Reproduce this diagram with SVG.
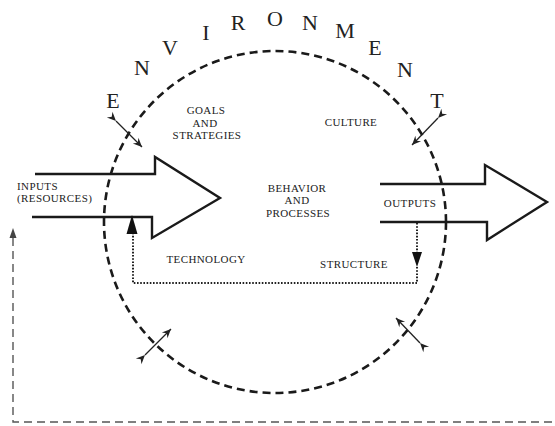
<svg xmlns="http://www.w3.org/2000/svg" width="555" height="426" viewBox="0 0 555 426">
  <style>
    .env { font-family: "Liberation Serif", "Times New Roman", serif; font-size: 22px; fill: #222; text-anchor: middle; }
    .lbl { font-family: "Liberation Serif", "Times New Roman", serif; font-size: 11px; letter-spacing: 0.4px; fill: #222; text-anchor: middle; }
    .left { text-anchor: start; }
    .big { fill: none; stroke: #1a1a1a; stroke-width: 2.4; stroke-linejoin: miter; }
    .boundary { fill: none; stroke: #1a1a1a; stroke-width: 2.6; stroke-dasharray: 8 5; }
    .dotted { fill: none; stroke: #222; stroke-width: 2; stroke-dasharray: 1.6 1.6; }
    .feedback { fill: none; stroke: #555; stroke-width: 1.4; stroke-dasharray: 8 5; }
    .cross { fill: none; stroke: #222; stroke-width: 1.3; marker-start: url(#barb); marker-end: url(#barb); }
  </style>
  <defs>
    <marker id="barb" viewBox="-10 -5 12 10" refX="0" refY="0" markerWidth="12" markerHeight="10" markerUnits="userSpaceOnUse" orient="auto">
      <path d="M0,0 L-9,-4 L-6,0 L-9,4 Z" fill="#222"/>
    </marker>
  </defs>

  <rect width="555" height="426" fill="#ffffff"/>

  <!-- system boundary -->
  <g id="boundary">
    <circle class="boundary" cx="275" cy="222" r="171"/>
  </g>

  <!-- the word ENVIRONMENT arched over the boundary -->
  <g id="environment">
    <text class="env" x="113" y="108">E</text>
    <text class="env" x="142" y="75">N</text>
    <text class="env" x="170" y="55">V</text>
    <text class="env" x="206" y="40">I</text>
    <text class="env" x="238" y="30">R</text>
    <text class="env" x="275" y="26">O</text>
    <text class="env" x="310" y="30">N</text>
    <text class="env" x="345" y="38">M</text>
    <text class="env" x="375" y="55">E</text>
    <text class="env" x="405" y="77">N</text>
    <text class="env" x="437" y="108">T</text>
  </g>

  <!-- exchange marks crossing the boundary, all pointing inward -->
  <g id="exchanges">
    <line class="cross" x1="116" y1="121" x2="142" y2="147"/>
    <line class="cross" x1="438" y1="118" x2="412" y2="145"/>
    <line class="cross" x1="145" y1="355" x2="171" y2="329"/>
    <line class="cross" x1="420" y1="343" x2="396" y2="318"/>
  </g>

  <!-- inputs arrow -->
  <g id="inputs">
    <path class="big" d="M35,174 H155 V157 L220,198 L152,238 V217 H32"/>
    <text class="lbl left" x="17" y="189.5">INPUTS</text>
    <text class="lbl left" x="17" y="202">(RESOURCES)</text>
  </g>

  <!-- outputs arrow -->
  <g id="outputs">
    <path class="big" d="M380,184 H485 V165 L547,202 L487,240 V222 H380"/>
    <text class="lbl" x="410" y="207">OUTPUTS</text>
  </g>

  <!-- internal subsystems -->
  <g id="goals">
    <text class="lbl" x="206" y="114">GOALS</text>
    <text class="lbl" x="205" y="126.5">AND</text>
    <text class="lbl" x="207" y="139">STRATEGIES</text>
  </g>
  <g id="culture">
    <text class="lbl" x="351" y="126">CULTURE</text>
  </g>
  <g id="behavior">
    <text class="lbl" x="297" y="191.5">BEHAVIOR</text>
    <text class="lbl" x="297" y="204">AND</text>
    <text class="lbl" x="298" y="216.5">PROCESSES</text>
  </g>
  <g id="technology">
    <text class="lbl" x="206" y="263">TECHNOLOGY</text>
  </g>
  <g id="structure">
    <text class="lbl" x="354" y="268">STRUCTURE</text>
  </g>

  <!-- connectors: internal loop and external feedback -->
  <g id="connectors">
    <path class="dotted" d="M417,223 V252 M417,267 V283 H133 V234"/>
    <polygon points="412,252 422,252 417,267" fill="#111"/>
    <polygon points="132,215 126.5,234 137.5,234" fill="#111"/>
    <path class="feedback" d="M552,422 H13 V238"/>
    <polygon points="13,228 9.5,238 16.5,238" fill="#444"/>
  </g>
</svg>
